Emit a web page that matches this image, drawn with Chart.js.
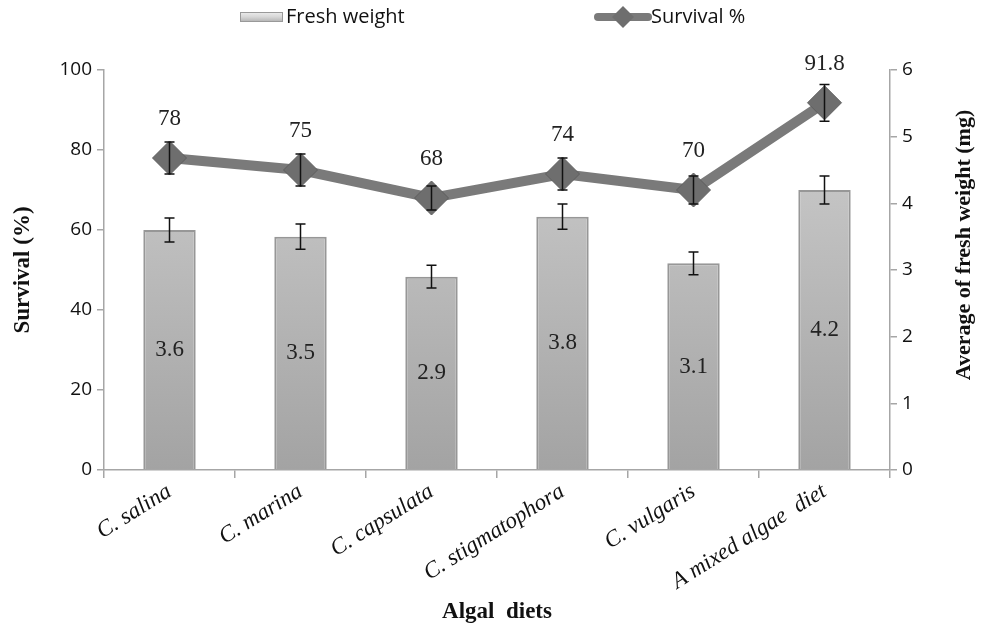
<!DOCTYPE html>
<html>
<head>
<meta charset="utf-8">
<script src="https://cdn.jsdelivr.net/npm/chart.js@4.4.0/dist/chart.umd.min.js"></script>
<style>
  body { margin: 0; background: #fff; }
  #wrap { width: 983px; height: 629px; }
</style>
</head>
<body>
<div id="wrap"><canvas id="grafico" width="983" height="629"></canvas></div>
<script>
// dados
const dietas = ['C. salina', 'C. marina', 'C. capsulata', 'C. stigmatophora', 'C. vulgaris', 'A mixed algae  diet'];
const pesoFresco = [3.6, 3.5, 2.9, 3.8, 3.1, 4.2];
const erroPeso = [0.18, 0.19, 0.17, 0.19, 0.17, 0.21];
const sobrevivencia = [78, 75, 68, 74, 70, 91.8];
const erroSobrev = [4, 4, 3, 4, 3.5, 4.6];
const ticksSobrev = [0, 20, 40, 60, 80, 100];
const ticksPeso = [0, 1, 2, 3, 4, 5, 6];

const sans = '"Open Sans", "Liberation Sans", sans-serif';
const serif = '"Liberation Serif", "DejaVu Serif", serif';
const cinzaEixo = '#a6a6a6';

function gradienteBarra(context) {
  const chart = context.chart;
  const area = chart.chartArea;
  if (!area) return '#bbb';
  const el = context.element;
  const top = el && el.y ? el.y : area.top;
  const g = chart.ctx.createLinearGradient(0, top, 0, area.bottom);
  g.addColorStop(0, '#e2e2e2');
  g.addColorStop(0.06, '#cfcfcf');
  g.addColorStop(1, '#a3a3a3');
  return g;
}

// barras de erro, rótulos, títulos e legenda
const extras = {
  id: 'extras',
  afterDatasetsDraw(chart) {
    const ctx = chart.ctx;
    const x = chart.scales.x;
    const yL = chart.scales.ySob;
    const yR = chart.scales.yPeso;
    ctx.save();
    ctx.strokeStyle = '#111';
    ctx.lineWidth = 1.5;
    function barraErro(cx, v, e, sc) {
      const t = sc.getPixelForValue(v + e), b = sc.getPixelForValue(v - e);
      ctx.beginPath();
      ctx.moveTo(cx, t); ctx.lineTo(cx, b);
      ctx.moveTo(cx - 5, t); ctx.lineTo(cx + 5, t);
      ctx.moveTo(cx - 5, b); ctx.lineTo(cx + 5, b);
      ctx.stroke();
    }
    dietas.forEach((d, i) => {
      const cx = x.getPixelForValue(i);
      barraErro(cx, pesoFresco[i], erroPeso[i], yR);
      barraErro(cx, sobrevivencia[i], erroSobrev[i], yL);
    });
    // rótulos de valores
    ctx.fillStyle = '#222';
    ctx.font = '23px ' + serif;
    ctx.textAlign = 'center';
    ctx.textBaseline = 'middle';
    dietas.forEach((d, i) => {
      const cx = x.getPixelForValue(i);
      ctx.fillText(String(sobrevivencia[i]), cx, yL.getPixelForValue(sobrevivencia[i]) - 39);
      const yb = (yR.getPixelForValue(pesoFresco[i]) + yR.getPixelForValue(0)) / 2;
      ctx.fillText(pesoFresco[i].toFixed(1), cx, yb);
    });
    // títulos dos eixos
    ctx.font = 'bold 23px ' + serif;
    ctx.fillStyle = '#111';
    ctx.save();
    ctx.translate(23, 270);
    ctx.rotate(-Math.PI / 2);
    ctx.fillText('Survival (%)', 0, 0);
    ctx.restore();
    ctx.save();
    ctx.font = 'bold 22px ' + serif;
    ctx.translate(964, 245);
    ctx.rotate(-Math.PI / 2);
    ctx.fillText('Average of fresh weight (mg)', 0, 0);
    ctx.restore();
    ctx.fillText('Algal  diets', 497, 612);
    // legenda
    const g = ctx.createLinearGradient(0, 11, 0, 23);
    g.addColorStop(0, '#f2f2f2');
    g.addColorStop(0.5, '#d6d6d6');
    g.addColorStop(1, '#a8a8a8');
    ctx.fillStyle = g;
    ctx.fillRect(240, 12, 43, 10);
    ctx.strokeStyle = '#999';
    ctx.lineWidth = 1;
    ctx.strokeRect(240.5, 12.5, 42, 9);
    ctx.fillStyle = '#111';
    ctx.font = '20px ' + sans;
    ctx.textAlign = 'left';
    ctx.fillText('Fresh weight', 286, 17);
    ctx.strokeStyle = '#7a7a7a';
    ctx.lineWidth = 8;
    ctx.lineCap = 'round';
    ctx.beginPath();
    ctx.moveTo(598, 17); ctx.lineTo(648, 17);
    ctx.stroke();
    ctx.fillStyle = '#6e6e6e';
    ctx.beginPath();
    ctx.moveTo(623, 6); ctx.lineTo(634, 17); ctx.lineTo(623, 28); ctx.lineTo(612, 17);
    ctx.closePath();
    ctx.fill();
    ctx.fillStyle = '#111';
    ctx.fillText('Survival %', 651, 17);
    ctx.restore();
  }
};

const ctx = document.getElementById('grafico').getContext('2d');
const grafico = new Chart(ctx, {
  data: {
    labels: dietas,
    datasets: [
      {
        type: 'line',
        label: 'Survival %',
        data: sobrevivencia,
        yAxisID: 'ySob',
        borderColor: '#7a7a7a',
        borderWidth: 10,
        pointStyle: 'rectRot',
        pointRadius: 17,
        pointBackgroundColor: '#6e6e6e',
        pointBorderColor: '#5e5e5e',
        pointBorderWidth: 1,
        tension: 0,
        order: 0
      },
      {
        type: 'bar',
        label: 'Fresh weight',
        data: pesoFresco,
        yAxisID: 'yPeso',
        backgroundColor: gradienteBarra,
        borderColor: '#979797',
        borderWidth: 2,
        categoryPercentage: 1,
        barPercentage: 0.4,
        order: 1
      }
    ]
  },
  options: {
    responsive: false,
    animation: false,
    layout: { padding: { top: 70, left: 0, right: 0, bottom: 0 } },
    plugins: {
      legend: { display: false },
      tooltip: { enabled: false }
    },
    scales: {
      x: {
        offset: true,
        grid: { display: true, offset: true, drawOnChartArea: false, color: cinzaEixo, tickLength: 8, lineWidth: 1.5 },
        border: { color: cinzaEixo, width: 1.5 },
        ticks: {
          color: '#111',
          font: { family: serif, size: 23, style: 'italic' },
          maxRotation: 32,
          minRotation: 32,
          padding: 0,
          autoSkip: false
        },
        afterFit(scale) { scale.height = 159; }
      },
      ySob: {
        position: 'left',
        min: 0,
        max: 100,
        afterBuildTicks(scale) { scale.ticks = ticksSobrev.map(v => ({ value: v })); },
        grid: { drawOnChartArea: false, color: cinzaEixo, tickLength: 7, lineWidth: 1.5 },
        border: { color: cinzaEixo, width: 1.5 },
        ticks: { color: '#111', font: { family: sans, size: 19 }, padding: 5 },
        afterFit(scale) { scale.width = 104; }
      },
      yPeso: {
        position: 'right',
        min: 0,
        max: 6,
        afterBuildTicks(scale) { scale.ticks = ticksPeso.map(v => ({ value: v })); },
        grid: { drawOnChartArea: false, color: cinzaEixo, tickLength: 7, lineWidth: 1.5 },
        border: { color: cinzaEixo, width: 1.5 },
        ticks: { color: '#111', font: { family: sans, size: 19 }, padding: 5 },
        afterFit(scale) { scale.width = 93; }
      }
    }
  },
  plugins: [extras]
});
</script>
</body>
</html>
